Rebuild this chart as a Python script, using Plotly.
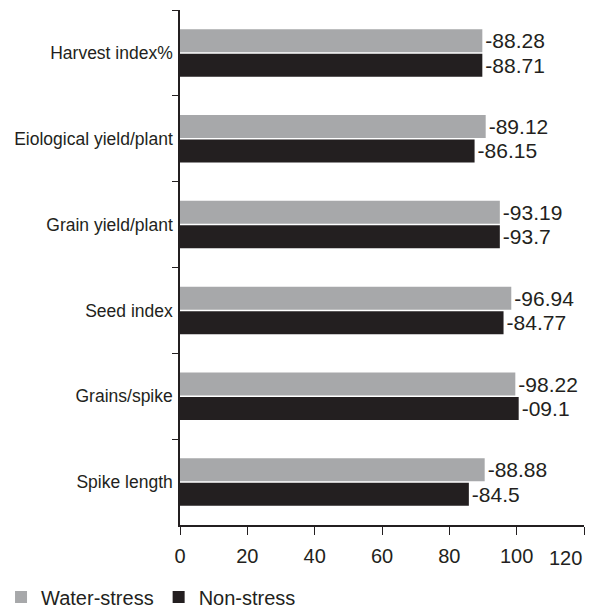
import plotly.graph_objects as go

categories = ["Harvest index%", "Eiological yield/plant", "Grain yield/plant",
              "Seed index", "Grains/spike", "Spike length"]
water_stress = [89.8, 90.8, 95.0, 98.4, 99.6, 90.5]
non_stress = [89.8, 87.5, 95.0, 96.1, 100.6, 85.8]
water_labels = ["88.28", "89.12", "93.19", "96.94", "98.22", "88.88"]
non_labels = ["88.71", "86.15", "93.7", "84.77", "09.1", "84.5"]
x_ticks = [0, 20, 40, 60, 80, 100, 120]
x_tick_text = ["0", "20", "40", "60", "80", "100", "120"]

FONT = "Liberation Sans, Arial, Helvetica, sans-serif"
INK = "#231F20"
GRAY = "#A7A8AA"

fig = go.Figure()
fig.add_trace(go.Bar(
    y=categories, x=water_stress, orientation="h", name="Water-stress",
    marker=dict(color=GRAY, line=dict(width=0)),
    text=["-" + t for t in water_labels], textposition="outside",
    textfont=dict(size=21, color=INK, family=FONT), cliponaxis=False,
    constraintext="none",
))
fig.add_trace(go.Bar(
    y=categories, x=non_stress, orientation="h", name="Non-stress",
    marker=dict(color=INK, line=dict(width=0)),
    text=["-" + t for t in non_labels], textposition="outside",
    textfont=dict(size=21, color=INK, family=FONT), cliponaxis=False,
    constraintext="none",
))

# last tick label is drawn right-aligned at its tick (as in the original)
fig.add_annotation(
    x=x_ticks[-1], xref="x", y=-0.064, yref="paper", xanchor="right", yanchor="middle",
    text=x_tick_text[-1], showarrow=False,
    font=dict(size=20, color=INK, family=FONT),
)

fig.update_layout(
    width=588, height=602,
    margin=dict(l=172, r=12, t=2, b=85, autoexpand=False),
    paper_bgcolor="white", plot_bgcolor="white",
    barmode="group", bargap=0.43, bargroupgap=0.06,
    font=dict(family=FONT, color=INK, size=17),
    showlegend=True,
    legend=dict(orientation="h", x=-0.443, xanchor="left", y=-0.14, yanchor="middle",
                font=dict(size=20, color=INK, family=FONT), traceorder="normal",
                itemwidth=30, bgcolor="rgba(0,0,0,0)"),
    xaxis=dict(range=[0, 120], tickvals=x_ticks, ticktext=x_tick_text[:-1] + [""],
               showgrid=False, zeroline=False, automargin=False,
               showline=True, linecolor=INK, linewidth=1.5,
               ticks="outside", ticklen=8, tickcolor=INK, tickwidth=1.2,
               tickfont=dict(size=20, color=INK), ticklabelstandoff=4),
    yaxis=dict(autorange="reversed", showgrid=False, zeroline=False, automargin=False,
               showline=True, linecolor=INK, linewidth=1.5,
               ticks="outside", tickson="boundaries", ticklen=6, tickcolor=INK,
               tickwidth=1.2, tickfont=dict(size=17.5, color=INK), ticklabelstandoff=2),
)

fig.write_html("out.html")
